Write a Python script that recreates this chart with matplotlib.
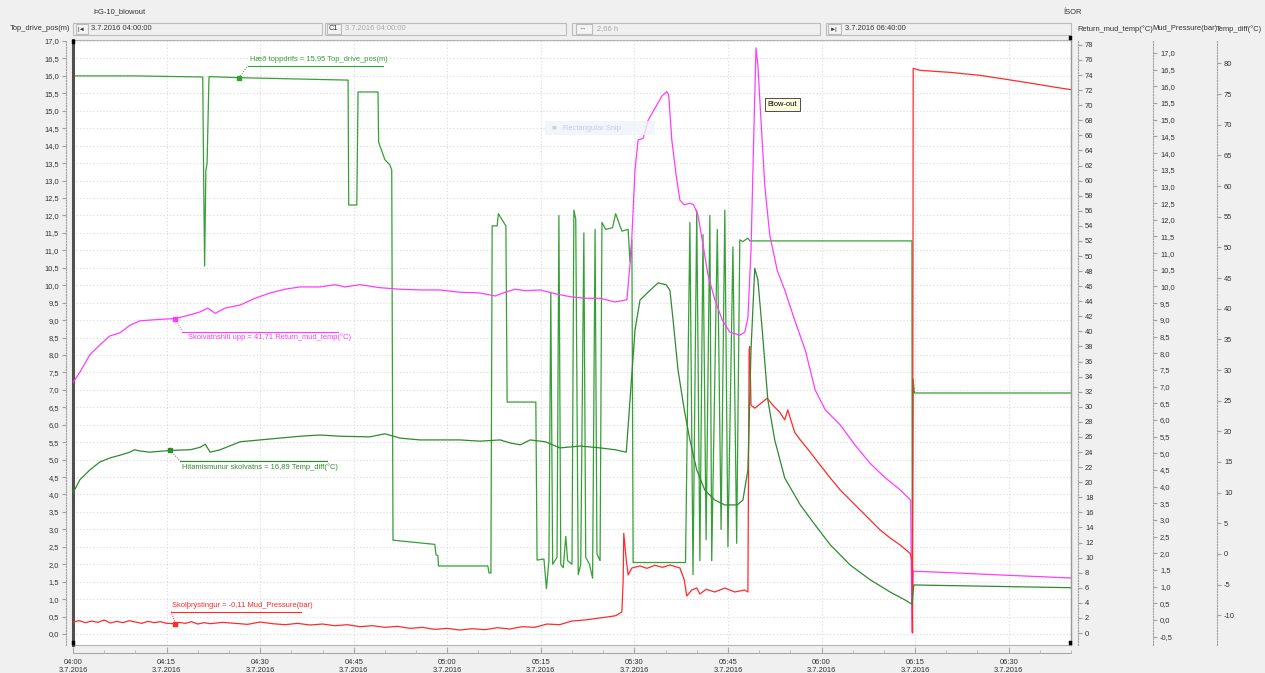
import matplotlib
matplotlib.use("Agg")
import matplotlib.pyplot as plt
from matplotlib import font_manager
from matplotlib.lines import Line2D
from matplotlib.patches import Rectangle
from matplotlib.transforms import IdentityTransform
import numpy as np

_installed = {f.name for f in font_manager.fontManager.ttflist}
if 'Liberation Sans Narrow' in _installed:
    BASE_FONT, FS = 'Liberation Sans Narrow', 6.4
else:
    BASE_FONT, FS = 'Liberation Sans', 5.4
plt.rcParams['font.family'] = [BASE_FONT, 'DejaVu Sans']

# ---------------------------------------------------------------- data
# time in minutes after 04:00 on 3.7.2016
top_drive_t = [0, 10, 20.8, 20.95, 21.1, 21.3, 21.5, 21.8, 26.6, 31.6, 44.1,
               44.2, 45.5, 45.7, 48.9, 49.0, 50.0, 50.8, 51.1, 51.3, 58.0, 58.2,
               58.5, 58.6, 66.5, 66.7, 67.0, 67.2, 68.0, 68.2, 69.4, 69.6, 74.2,
               74.4, 75.5, 75.9, 76.3, 76.6, 76.9, 77.6, 77.9, 78.2, 78.6, 79.0,
               79.3, 80.0, 80.3, 80.6, 81.0, 81.4, 81.9, 82.2, 82.8, 83.3, 83.7,
               84.0, 84.5, 84.8, 85.4, 86.5, 87.0, 88.0, 89.0, 89.3, 89.6, 89.8,
               98.2, 98.9, 99.4, 100.0, 100.5, 101.0, 101.5, 102.1, 102.4, 103.3,
               103.9, 104.5, 105.0, 105.8, 106.4, 106.9, 107.4, 108.2, 108.5,
               134.5, 134.55, 134.7, 134.9, 160]
top_drive_v = [16.0, 16.0, 15.97, 13.0, 10.55, 13.3, 13.5, 15.98, 15.95, 15.93, 15.88,
               12.3, 12.3, 15.54, 15.54, 14.1, 13.6, 13.45, 13.3, 2.69, 2.57, 2.27,
               2.25, 1.95, 1.95, 1.75, 1.75, 11.7, 11.7, 12.05, 11.7, 6.65, 6.65,
               2.12, 2.15, 1.3, 2.1, 9.8, 2.0, 2.2, 12.0, 2.0, 1.9, 2.8,
               2.1, 2.0, 12.15, 11.9, 1.7, 2.0, 11.5, 2.2, 2.0, 1.6, 11.6,
               2.3, 2.1, 11.8, 11.6, 11.65, 12.05, 11.55, 11.6, 10.67, 11.3, 2.05,
               2.05, 11.8, 1.7, 12.15, 2.1, 11.45, 2.7, 12.0, 2.1, 11.6,
               3.0, 12.15, 2.5, 11.1, 2.6, 11.3, 11.25, 11.35, 11.27,
               11.27, 0.9, 7.3, 6.91, 6.91]

return_t = [0, 1.1, 2.7, 4.3, 5.9, 7.5, 9.1, 10.7, 12.3, 14.0, 16.4, 18.8, 20.4,
            21.6, 22.8, 24.4, 26.8, 29.2, 31.6, 34.0, 36.4, 39.6, 42.0, 43.6,
            46.0, 49.2, 52.4, 55.6, 58.8, 62.0, 65.2, 67.7, 69.3, 70.9, 72.5,
            74.9, 77.3, 79.7, 82.1, 84.5, 86.9, 88.8, 89.5, 90.1, 90.6, 91.4,
            92.2, 93.3, 94.4, 95.2, 95.5, 96.0, 96.7, 97.3, 98.0, 98.9, 99.5,
            100.2, 101.0, 101.8, 102.9, 104.1, 105.3, 106.9, 107.7, 108.2,
            108.7, 109.2, 109.5, 109.8, 110.3, 110.9, 111.7, 112.9, 114.1,
            115.7, 117.4, 119.0, 120.6, 123.0, 125.4, 127.8, 130.2, 132.6,
            134.3, 134.5, 134.7, 140.6, 148.6, 160]
return_v = [33.2, 34.6, 36.9, 38.2, 39.4, 39.8, 40.8, 41.4, 41.5, 41.6, 41.71, 42.2, 42.6,
            43.1, 42.4, 43.1, 43.5, 44.4, 45.1, 45.6, 45.9, 45.9, 46.2, 45.9,
            46.2, 45.8, 45.6, 45.5, 45.5, 45.2, 45.1, 44.7, 45.2, 45.6, 45.4,
            45.5, 45.0, 44.6, 44.4, 44.4, 43.9, 44.2, 50.8, 61.4, 65.4, 65.6,
            68.0, 69.6, 71.2, 71.8, 71.4, 65.4, 60.7, 57.4, 56.8, 57.0, 56.8,
            55.4, 51.5, 47.5, 44.2, 41.5, 39.9, 39.5, 39.9, 41.8,
            50.8, 68.0, 77.6, 75.3, 68.0, 59.4, 52.8, 48.1, 45.5,
            41.5, 37.5, 32.2, 29.6, 27.6, 24.9, 22.5, 20.6, 19.0,
            17.6, 0.1, 8.2, 8.0, 7.7, 7.3]

pressure_t = [0, 1, 2, 3, 4, 5, 6, 7, 8, 9, 10, 11, 12, 13, 14, 15, 16.4, 17, 18, 19,
              20, 21, 22, 24, 26, 28, 30, 32, 34, 36, 38, 40, 42, 44, 46, 48, 50,
              52, 54, 56, 58, 60, 62, 64, 66, 68, 70, 72, 74, 76, 78, 80, 82, 84,
              86, 87, 88.0, 88.2, 88.3, 88.7, 89.0, 89.6, 90.9, 92.0, 93.3, 94.5,
              95.7, 97.3, 98.0, 98.4, 99.2, 100.0, 100.5, 101.5, 102.9, 104.5,
              106.1, 107.7, 108.2, 108.4, 108.5, 108.7, 109.3, 110.5, 111.3,
              112.2, 113.3, 114.1, 114.6, 115.0, 115.7, 116.6, 118.2, 119.8,
              121.4, 123.0, 124.6, 126.2, 127.8, 129.4, 131.0, 132.6, 134.2,
              134.5, 134.6, 134.7, 135.8, 140.6, 145.4, 148.6, 153.4, 156.6, 160]
pressure_v = [-0.06, -0.02, -0.08, -0.03, -0.07, 0.0, -0.09, -0.04, -0.08, -0.02, -0.06,
              -0.1, -0.04, -0.08, -0.05, -0.1, -0.11, -0.07, -0.1, -0.05,
              -0.12, -0.08, -0.11, -0.07, -0.1, -0.13, -0.06, -0.11, -0.14, -0.1,
              -0.15, -0.12, -0.17, -0.14, -0.2, -0.17, -0.22, -0.19, -0.25, -0.22,
              -0.28, -0.25, -0.3, -0.26, -0.29, -0.23, -0.27, -0.2, -0.22, -0.12,
              -0.14, -0.03, 0.0, 0.05, 0.1, 0.13, 0.24, 1.2, 2.6, 1.8, 1.35, 1.56,
              1.62, 1.55, 1.64, 1.58, 1.65, 1.56, 1.2, 0.72, 0.9, 0.96, 0.78,
              0.92, 0.84, 0.96, 0.84, 0.9, 0.84, 8.1, 8.2, 6.44, 6.35, 6.53, 6.65,
              6.44, 6.23, 6.0, 6.3, 6.05, 5.63, 5.4, 5.03, 4.64,
              4.26, 3.9, 3.6, 3.3, 3.0, 2.7, 2.46, 2.25, 2.0,
              1.8, -0.39, 16.54, 16.48, 16.42, 16.33, 16.24, 16.1, 16.0, 15.9]

tempdiff_t = [0, 1.1, 2.7, 4.3, 5.9, 7.5, 9.1, 9.9, 10.7, 12.3, 15.6, 18.8, 20.4,
              21.2, 22.0, 23.6, 26.8, 30.0, 33.2, 36.4, 39.6, 42.8, 47.6, 50.0,
              52.4, 55.6, 58.8, 62.0, 65.2, 68.5, 70.1, 71.7, 73.3, 75.7, 78.1,
              81.3, 84.5, 86.9, 88.7, 89.3, 90.1, 90.9, 92.2, 93.8, 95.1, 95.7,
              96.2, 97.0, 98.0, 98.9, 100.0, 101.3, 102.9, 104.5, 106.5, 107.4,
              108.2, 108.7, 109.3, 109.8, 110.5, 111.4, 112.5, 114.1, 116.6,
              119.0, 121.4, 124.6, 127.8, 131.0, 133.4, 134.5, 134.8, 160]
tempdiff_v = [9.95, 12.1, 13.7, 15.0, 15.65, 16.1, 16.6, 17.0, 16.8, 16.6, 16.89, 17.0, 17.4,
              17.9, 16.6, 17.0, 18.3, 18.6, 18.9, 19.2, 19.4, 19.2, 19.1, 19.6,
              18.9, 18.6, 18.6, 18.6, 18.4, 18.6, 18.1, 17.8, 18.6, 18.3, 17.3,
              17.6, 17.3, 17.0, 16.6, 25.1, 36.5, 41.4, 42.7, 44.2, 43.9, 43.0,
              38.2, 30.0, 23.5, 18.6, 13.7, 10.4, 8.8, 8.0, 8.0, 8.8,
              13.7, 33.3, 46.6, 44.7, 36.5, 25.1, 18.6, 12.4, 8.0,
              4.7, 1.5, -1.8, -4.2, -6.2, -7.5, -8.2, -5.05, -5.5]

x_ticks = [0, 15, 30, 45, 60, 75, 90, 105, 120, 135, 150]
x_labels = ["04:00", "04:15", "04:30", "04:45", "05:00", "05:15",
            "05:30", "05:45", "06:00", "06:15", "06:30"]
date_label = "3.7.2016"

# cursor readout times (minutes)
note_top_t = 26.6
note_return_t = 16.4
note_temp_t = 15.6
note_pressure_t = 16.4
blowout_t = 109.5

# ---------------------------------------------------------------- figure
W, H = 1265, 673
fig = plt.figure(figsize=(W / 100, H / 100), dpi=100, facecolor='#f0f0f0')

L, R, T, B = 73, 1071, 40, 645
ax = fig.add_axes([L / W, 1 - B / H, (R - L) / W, (B - T) / H])
ax.set_facecolor('white')
ax.set_xlim(0, 160)
ax.set_ylim(-0.315, 17.03)

TXT = '#303030'
C_TOP = '#35a035'
C_TEMP = '#2f8a2f'
C_RET = '#ff3cff'
C_PRES = '#ff2a2a'


def comma(v, fmt="{:.1f}"):
    return fmt.format(v).replace('.', ',')


# left axis: Top_drive_pos
left_ticks = np.arange(0, 17.01, 0.5)
ax.set_yticks(left_ticks)
ax.set_yticklabels([comma(v) for v in left_ticks])
for s in ['top', 'right']:
    ax.spines[s].set_visible(False)
ax.spines['left'].set_position(('outward', 5))
ax.spines['left'].set_linestyle((0, (1, 1.5)))
ax.spines['left'].set_color('#a0a0a0')
ax.spines['bottom'].set_position(('outward', 6))
ax.spines['bottom'].set_color('#a8a8a8')
ax.tick_params(axis='y', direction='out', length=3, pad=2,
               labelsize=FS, labelcolor=TXT, color='#a0a0a0')
ax.set_xticks(x_ticks)
ax.set_xticklabels([f"{l}\n{date_label}" for l in x_labels], linespacing=1.2)
ax.set_xticks(np.arange(0, 161, 5), minor=True)
ax.tick_params(axis='x', which='major', direction='in', length=4, pad=4,
               labelsize=FS, labelcolor=TXT, color='#a8a8a8')
ax.tick_params(axis='x', which='minor', direction='in', length=2, color='#b8b8b8')
ax.grid(True, which='major', color='#dadada', linestyle=(0, (1, 2)), linewidth=0.8)
ax.set_axisbelow(True)

# plot frame and cursors
ax.add_patch(Rectangle((0, 0), 1, 1, transform=ax.transAxes, fill=False,
                       ec='#b4b4b4', lw=0.8, clip_on=False, zorder=5))
ax.axvline(0, color='#505050', lw=2.2, clip_on=False, zorder=6)
ax.axvline(160, color='#9a9a9a', lw=1.0, clip_on=False, zorder=6)

ax.plot(top_drive_t, top_drive_v, color=C_TOP, lw=0.9, zorder=3)


def make_twin(pos_px, ylim, ticks, labels):
    a = ax.twinx()
    a.set_ylim(*ylim)
    a.spines['right'].set_position(('axes', (pos_px - L) / (R - L)))
    a.spines['right'].set_linestyle((0, (1, 1.5)))
    a.spines['right'].set_color('#a0a0a0')
    for s in ['top', 'left', 'bottom']:
        a.spines[s].set_visible(False)
    a.set_yticks(ticks)
    a.set_yticklabels(labels)
    a.tick_params(axis='y', direction='out', length=3, pad=2,
                  labelsize=FS, labelcolor=TXT, color='#a0a0a0')
    a.patch.set_visible(False)
    return a


ret_ticks = np.arange(0, 79, 2)
ax_ret = make_twin(1078, (-1.59, 78.65), ret_ticks, [str(v) for v in ret_ticks])
pres_ticks = np.arange(-0.5, 17.01, 0.5)
ax_pres = make_twin(1153, (-0.749, 17.39), pres_ticks, [comma(v) for v in pres_ticks])
temp_ticks = np.arange(-10, 81, 5)
ax_temp = make_twin(1217, (-14.84, 83.81), temp_ticks, [str(v) for v in temp_ticks])

ax_ret.plot(return_t, return_v, color=C_RET, lw=0.9, zorder=3)
ax_pres.plot(pressure_t, pressure_v, color=C_PRES, lw=0.9, zorder=3)
ax_temp.plot(tempdiff_t, tempdiff_v, color=C_TEMP, lw=0.9, zorder=3)

# ---------------------------------------------------------------- readout notes
ident = IdentityTransform()


def note(axis, t_arr, v_arr, t, label, unit, color, lead, line_len, txt_off):
    v = float(np.interp(t, t_arr, v_arr))
    x0, y0 = axis.transData.transform((t, v))
    xl, yl = x0 + lead[0], y0 - lead[1]
    fig.add_artist(Line2D([x0, xl], [y0, yl], transform=ident, color=color,
                          lw=0.7, linestyle=(0, (1, 1.5))))
    fig.add_artist(Line2D([xl, xl + line_len], [yl, yl], transform=ident,
                          color=color, lw=0.8))
    fig.add_artist(Line2D([x0], [y0], transform=ident, color=color, marker='s',
                          markersize=2.2, lw=0))
    fig.text(x0 + txt_off[0], y0 - txt_off[1], f"{label} = {comma(v, '{:.2f}')} {unit}",
             transform=ident, color=color, fontsize=FS, va='center', ha='left')


note(ax, top_drive_t, top_drive_v, note_top_t, "Hæð toppdrifs", "Top_drive_pos(m)",
     C_TOP, (9, -12), 135, (11, -18))
note(ax_ret, return_t, return_v, note_return_t, "Skolvatnshiti upp",
     "Return_mud_temp(°C)", C_RET, (7, 13), 156, (13, 19))
note(ax_temp, tempdiff_t, tempdiff_v, note_temp_t, "Hitamismunur skolvatns",
     "Temp_diff(°C)", C_TEMP, (10, 11), 147, (12, 17))
note(ax_pres, pressure_t, pressure_v, note_pressure_t, "Skolþrýstingur",
     "Mud_Pressure(bar)", C_PRES, (-4, -12), 130, (-3, -18))

# event label
ax_ret.text(blowout_t + 1.9, 70.1, "Blow-out", fontsize=FS, color='black', va='center',
            ha='left', zorder=7,
            bbox=dict(boxstyle='square,pad=0.4', fc='#ffffe1', ec='#303030', lw=0.6))

# faint tool caption left on the canvas
fig.add_artist(Rectangle((545 / W, 1 - 135 / H), 110 / W, 14 / H,
                         transform=fig.transFigure, fc='#eef4fc', ec='none', alpha=0.8))
fig.text(552 / W, 1 - 128 / H, "■   Rectangular Snip", fontsize=FS,
         color='#c4cede', va='center')

# ---------------------------------------------------------------- header
def ptext(x, y, s, **kw):
    kw.setdefault('fontsize', FS)
    kw.setdefault('color', TXT)
    kw.setdefault('va', 'center')
    fig.text(x / W, 1 - y / H, s, **kw)


def pbox(x0, y0, x1, y1, fc='#f0f0f0', ec='#bcbcbc', lw=0.8):
    fig.add_artist(Rectangle((x0 / W, 1 - y1 / H), (x1 - x0) / W, (y1 - y0) / H,
                             transform=fig.transFigure, fc=fc, ec=ec, lw=lw))


ptext(93, 12, "ÞG-10_blowout")
ptext(1063, 12, "ÍSOR")
ptext(10, 29, "Top_drive_pos(m)")
ptext(1077, 29, "Return_mud_temp(°C)")
ptext(1152, 29, "Mud_Pressure(bar)")
ptext(1216, 29, "Temp_diff(°C)")

pbox(73, 23, 322, 35)
pbox(76, 24, 88, 34, fc='#f4f4f4')
ptext(78, 29, "|◄", fontsize=4.5)
ptext(91, 29, "3.7.2016 04:00:00")

pbox(325, 23, 566, 35)
pbox(327, 24, 341, 34, fc='#f4f4f4')
ptext(329, 29, "C1")
ptext(345, 29, "3.7.2016 04:00:00", color='#a8a8a8')

pbox(572, 23, 820, 35)
pbox(576, 24, 592, 34, fc='#f4f4f4')
ptext(579, 29, "↔", fontsize=5.5, color='#909090')
ptext(597, 29, "2,66 h", color='#a8a8a8')

pbox(826, 23, 1071, 35)
pbox(828, 24, 841, 34, fc='#f4f4f4')
ptext(830, 29, "►|", fontsize=4.5)
ptext(845, 29, "3.7.2016 06:40:00")

# cursor end marks
for (cx, cy) in [(72, 40), (72, 641), (1069, 36), (1069, 641)]:
    pbox(cx, cy, cx + 2.5, cy + 4, fc='black', ec='black', lw=0.3)

fig.savefig("out.png", dpi=100, facecolor=fig.get_facecolor())
